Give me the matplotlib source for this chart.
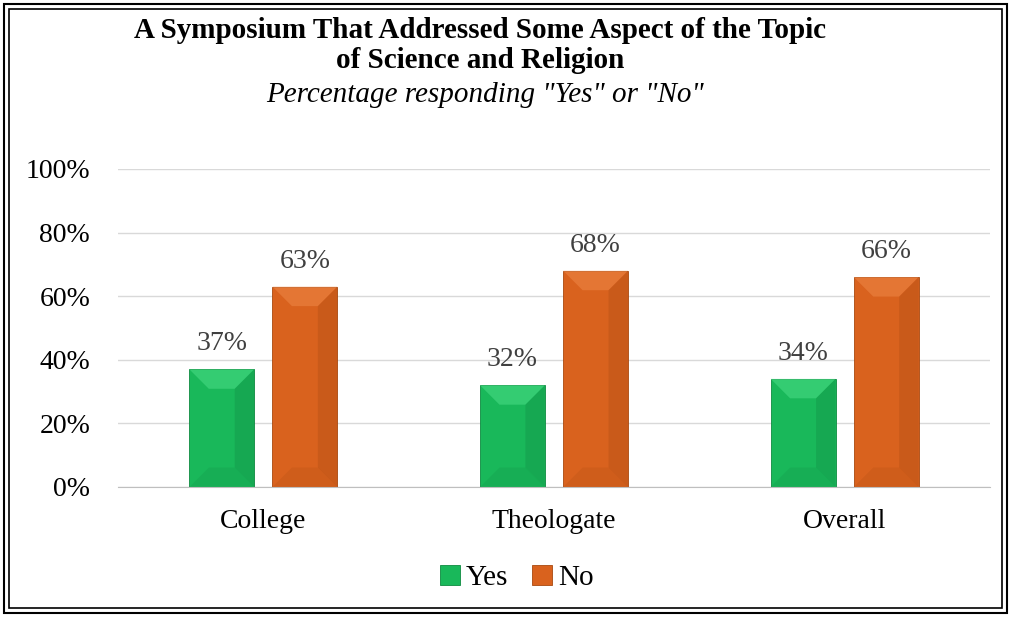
import matplotlib.pyplot as plt
from matplotlib.patches import Rectangle, Polygon
import numpy as np

plt.rcParams['font.family'] = ['Liberation Serif', 'DejaVu Serif']

# data
categories = ['College', 'Theologate', 'Overall']
yes_vals = [37, 32, 34]
no_vals = [63, 68, 66]
yticks = [0, 20, 40, 60, 80, 100]

green = '#19b85a'
orange = '#d9621e'

fig = plt.figure(figsize=(10.11, 6.17), dpi=100)
ax = fig.add_axes([118 / 1011, 1 - 487 / 617, 872 / 1011, 318 / 617])

x = np.arange(len(categories))
w = 0.223
off = 0.143


def bevel(ax, rects, light, dark):
    # simple bevel look: lighter top facet, darker right/bottom facets
    for r in rects:
        x0, y0 = r.get_x(), r.get_y()
        bw, bh = r.get_width(), r.get_height()
        dx = bw * 0.3
        dy = min(dx * (872 / 3) / (318 / 100), bh / 2)
        ax.add_patch(Polygon([(x0, y0 + bh), (x0 + bw, y0 + bh),
                              (x0 + bw - dx, y0 + bh - dy), (x0 + dx, y0 + bh - dy)],
                             closed=True, fc=light, ec='none', alpha=0.5, zorder=3))
        ax.add_patch(Polygon([(x0 + bw, y0), (x0 + bw, y0 + bh),
                              (x0 + bw - dx, y0 + bh - dy), (x0 + bw - dx, y0 + dy)],
                             closed=True, fc=dark, ec='none', alpha=0.2, zorder=3))
        ax.add_patch(Polygon([(x0, y0), (x0 + bw, y0),
                              (x0 + bw - dx, y0 + dy), (x0 + dx, y0 + dy)],
                             closed=True, fc=dark, ec='none', alpha=0.12, zorder=3))


b1 = ax.bar(x - off, yes_vals, w, color=green, edgecolor='#0e8a40', linewidth=0.6, zorder=2, label='Yes')
b2 = ax.bar(x + off, no_vals, w, color=orange, edgecolor='#a9480f', linewidth=0.6, zorder=2, label='No')
bevel(ax, b1, '#4fe08a', '#0a6b33')
bevel(ax, b2, '#f08a4a', '#8a3a0a')

for rects, vals in [(b1, yes_vals), (b2, no_vals)]:
    for r, v in zip(rects, vals):
        ax.text(r.get_x() + r.get_width() / 2, v + 8, f'{v}%', ha='center', va='center',
                fontsize=20, color='#404040')

ax.set_xlim(-0.5, 2.5)
ax.set_ylim(0, 100)
ax.set_yticks(yticks)
ax.set_yticklabels([f'{t}%' for t in yticks], fontsize=20)
ax.set_xticks(x)
ax.set_xticklabels(categories, fontsize=20)
ax.tick_params(length=0)
ax.tick_params(axis='x', pad=16)
ax.tick_params(axis='y', pad=20)
ax.grid(axis='y', color='#d9d9d9', linewidth=1, zorder=0)
for s in ['top', 'right', 'left']:
    ax.spines[s].set_visible(False)
ax.spines['bottom'].set_color('#bfbfbf')
ax.set_axisbelow(True)

fig.text(0.475, 1 - 30 / 617, 'A Symposium That Addressed Some Aspect of the Topic',
         ha='center', va='center', fontsize=21, fontweight='bold')
fig.text(0.475, 1 - 60 / 617, 'of Science and Religion',
         ha='center', va='center', fontsize=21, fontweight='bold')
fig.text(0.48, 1 - 95 / 617, 'Percentage responding "Yes" or "No"',
         ha='center', va='center', fontsize=21, style='italic')

leg = fig.legend(handles=[b1, b2], labels=['Yes', 'No'], loc='center',
                 bbox_to_anchor=(0.511, 1 - 578 / 617), ncol=2, frameon=False,
                 fontsize=21, handlelength=0.7, handleheight=0.7, handletextpad=0.2,
                 columnspacing=0.8)

# double border
fig.patches.append(Rectangle((4 / 1011, 4 / 617), 1 - 8 / 1011, 1 - 8 / 617, fill=False,
                             ec='black', lw=1.5, transform=fig.transFigure, figure=fig))
fig.patches.append(Rectangle((9 / 1011, 9 / 617), 1 - 18 / 1011, 1 - 18 / 617, fill=False,
                             ec='black', lw=1.2, transform=fig.transFigure, figure=fig))

fig.savefig('out.png', dpi=100)
